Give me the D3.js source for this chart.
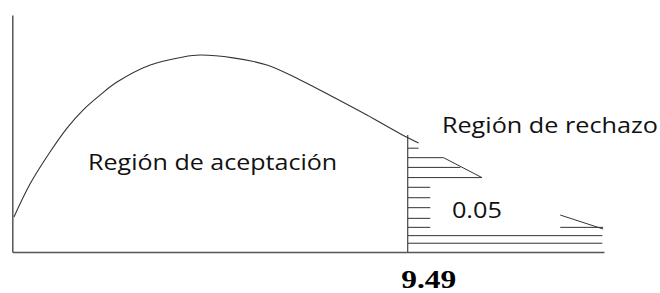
<!DOCTYPE html>
<html lang="es">
<head>
    <meta charset="UTF-8">
    <title>Región de aceptación</title>
    <script src="https://cdn.jsdelivr.net/npm/d3@7"></script>
    <style>
        body { margin: 0; background: #fff; }
        svg { display: block; }
    </style>
</head>
<body>
<svg></svg>
<script>
    // curva de densidad (dibujada a mano), x en unidades de chi-cuadrado
    var curveX = [0.04, 0.425, 0.905, 1.313, 1.697, 2.105, 2.513, 3.31, 4.10, 4.51, 5.30, 6.11, 6.91, 7.70, 8.51, 9.32, 9.75];
    var curveY = [0.148, 0.287, 0.422, 0.523, 0.599, 0.662, 0.717, 0.789, 0.823, 0.831, 0.819, 0.789, 0.726, 0.654, 0.578, 0.498, 0.460];

    var critical = 9.49;      // valor crítico
    var alpha = "0.05";
    var xMax = 14.2;

    // rayado de la región de rechazo
    var hatchY   = [0.438, 0.398, 0.357, 0.314, 0.273, 0.229, 0.187, 0.142, 0.104, 0.069, 0.037];
    var hatchEnd = [9.75, 10.35, 10.75, 11.27, 10.03, 10.03, 10.03, 10.03, 10.03, 14.16, 14.16];

    // trozos de la cola
    var tailX1 = [10.35, 13.15];
    var tailY1 = [0.398, 0.156];
    var tailX2 = [11.27, 14.18];
    var tailY2 = [0.314, 0.097];
    var tailHatchX1 = [13.15];
    var tailHatchX2 = [14.18];
    var tailHatchY = [0.104];

    var labels = ["Región de aceptación", "Región de rechazo", alpha];
    var labelX = [1.82, 10.31, 10.55];
    var labelY = [0.346, 0.501, 0.143];
    var labelW = [249, 216, 50];

    var width = 660, height = 293;
    var svg = d3.select("svg").attr("width", width).attr("height", height);

    var x = d3.scaleLinear().domain([0, xMax]).range([12.3, 604]);
    var y = d3.scaleLinear().domain([0, 1]).range([252, 15]);

    var ink = "#333";

    // ejes sin marcas
    svg.append("g")
        .attr("transform", "translate(0," + y(0) + ")")
        .call(d3.axisBottom(x).tickValues([critical]).tickFormat(d3.format(".2f"))
            .tickSize(0).tickSizeOuter(0).tickPadding(0))
        .call(function(g) {
            g.select(".domain").attr("stroke", "#555").attr("stroke-width", 1.5);
            g.selectAll("text")
                .attr("text-anchor", "start")
                .attr("dx", -7)
                .attr("y", 36)
                .attr("dy", 0)
                .attr("font-family", "'Liberation Serif', 'Times New Roman', serif")
                .attr("font-weight", "bold")
                .attr("font-size", 25)
                .attr("fill", "#000")
                .attr("textLength", 55)
                .attr("lengthAdjust", "spacingAndGlyphs");
        });

    svg.append("g")
        .attr("transform", "translate(" + x(0) + ",0)")
        .call(d3.axisLeft(y).tickValues([]).tickSizeOuter(0))
        .call(function(g) {
            g.select(".domain").attr("stroke", "#555").attr("stroke-width", 1.5);
        });

    // curva
    var pts = curveX.map(function(d, i) { return [d, curveY[i]]; });
    var line = d3.line()
        .x(function(d) { return x(d[0]); })
        .y(function(d) { return y(d[1]); })
        .curve(d3.curveCatmullRom);

    svg.append("path")
        .datum(pts)
        .attr("d", line)
        .attr("fill", "none")
        .attr("stroke", ink)
        .attr("stroke-width", 1.1);

    // línea del valor crítico
    svg.append("line")
        .attr("x1", x(critical)).attr("x2", x(critical))
        .attr("y1", y(0.494)).attr("y2", y(0))
        .attr("stroke", ink).attr("stroke-width", 1.1);

    // rayado
    svg.selectAll(".hatch")
        .data(hatchY)
        .enter()
        .append("line")
        .attr("class", "hatch")
        .attr("x1", x(critical))
        .attr("x2", function(d, i) { return x(hatchEnd[i]); })
        .attr("y1", function(d) { return y(d); })
        .attr("y2", function(d) { return y(d); })
        .attr("stroke", ink)
        .attr("stroke-width", 1);

    svg.selectAll(".tailHatch")
        .data(tailHatchY)
        .enter()
        .append("line")
        .attr("class", "tailHatch")
        .attr("x1", function(d, i) { return x(tailHatchX1[i]); })
        .attr("x2", function(d, i) { return x(tailHatchX2[i]); })
        .attr("y1", function(d) { return y(d); })
        .attr("y2", function(d) { return y(d); })
        .attr("stroke", ink)
        .attr("stroke-width", 1);

    svg.selectAll(".tail")
        .data(tailX1)
        .enter()
        .append("line")
        .attr("class", "tail")
        .attr("x1", function(d) { return x(d); })
        .attr("y1", function(d, i) { return y(tailY1[i]); })
        .attr("x2", function(d, i) { return x(tailX2[i]); })
        .attr("y2", function(d, i) { return y(tailY2[i]); })
        .attr("stroke", ink)
        .attr("stroke-width", 1);

    // textos
    svg.selectAll(".label")
        .data(labels)
        .enter()
        .append("text")
        .attr("class", "label")
        .attr("x", function(d, i) { return x(labelX[i]); })
        .attr("y", function(d, i) { return y(labelY[i]); })
        .attr("font-family", "'Open Sans', sans-serif")
        .attr("font-size", 22)
        .attr("fill", "#111")
        .attr("textLength", function(d, i) { return labelW[i]; })
        .attr("lengthAdjust", "spacingAndGlyphs")
        .text(function(d) { return d; });
</script>
</body>
</html>
